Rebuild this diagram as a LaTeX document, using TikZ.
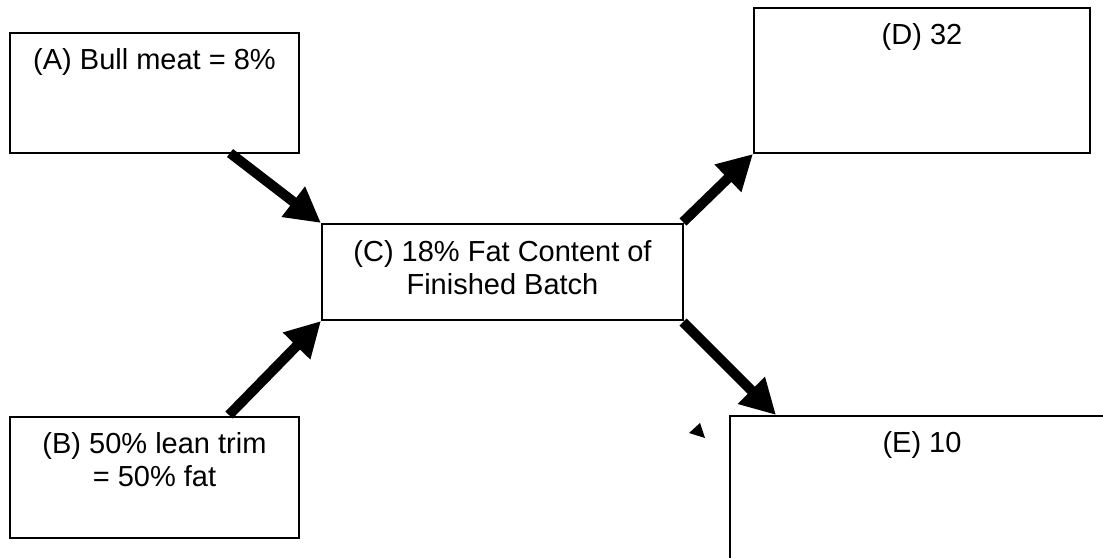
\documentclass[tikz,border=0pt]{standalone}
\usepackage{fontspec}
\setmainfont{Liberation Sans}
\usetikzlibrary{arrows.meta}
\newcommand{\bxtxt}[4]{\parbox[t][#2][t]{#1}{\centering\rule{0pt}{#3}#4}}
\begin{document}
\begin{tikzpicture}[x=1pt,y=-1pt,
  box/.style={draw=black, line width=2pt, rectangle, inner sep=0pt, anchor=north west,
    font=\fontsize{29}{33}\selectfont},
  bigarrow/.style={line width=10pt, -{Triangle[width=36pt,length=35pt]}}]
\clip (0,0) rectangle (1103,557);
\node[box] (A) at (9,32) {\bxtxt{289pt}{120pt}{36pt}{(A) Bull meat = 8\%}};
\node[box] (B) at (9,416) {\bxtxt{289pt}{121pt}{36pt}{(B) 50\% lean trim\\= 50\% fat}};
\node[box] (C) at (321,223) {\bxtxt{361pt}{96pt}{37pt}{(C) 18\% Fat Content of\\Finished Batch}};
\node[box] (D) at (753,7) {\bxtxt{336pt}{145pt}{36pt}{(D) 32}};
\node[box] (E) at (729,415) {\bxtxt{384pt}{160pt}{36pt}{(E) 10}};
\coordinate (a1) at (230,153);
\coordinate (b1) at (229,415);
\coordinate (d1) at (683,222);
\coordinate (e1) at (683,322);
\coordinate (e2) at (776,415);
\draw[bigarrow] (a1) -- (C.north west);
\draw[bigarrow] (b1) -- (C.south west);
\draw[bigarrow] (d1) -- (D.south west);
\draw[bigarrow] (e1) -- (e2);
\fill (689,433) -- (700,423) -- (705,438) -- cycle;
\end{tikzpicture}
\end{document}
